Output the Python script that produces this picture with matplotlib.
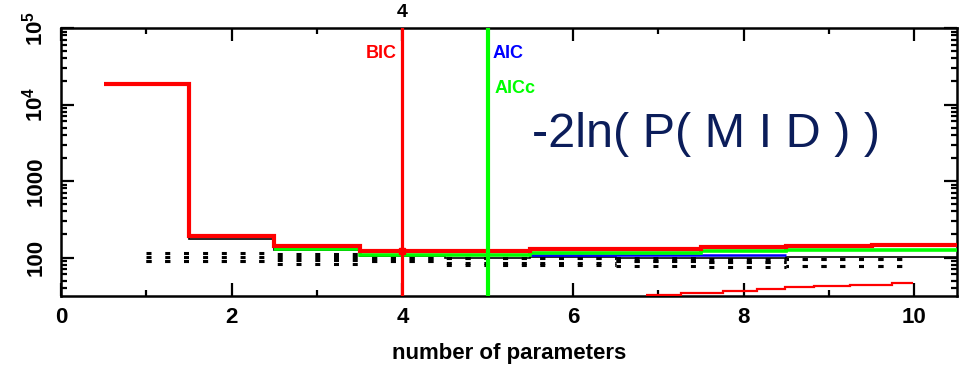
import matplotlib
matplotlib.use("Agg")
import matplotlib.pyplot as plt
import numpy as np
from matplotlib.ticker import FixedLocator, FuncFormatter, NullFormatter

plt.rcParams["font.family"] = ["Liberation Sans", "DejaVu Sans"]
plt.rcParams["font.weight"] = "bold"
plt.rcParams["axes.labelweight"] = "bold"
plt.rcParams["mathtext.fontset"] = "custom"
plt.rcParams["mathtext.rm"] = "Liberation Sans:bold"
plt.rcParams["mathtext.bf"] = "Liberation Sans:bold"
plt.rcParams["mathtext.it"] = "Liberation Sans:bold"
plt.rcParams["lines.scale_dashes"] = False

# ---- data -------------------------------------------------------------
n_params = np.arange(1, 11)
neg2lnL = [18500, 177, 124, 104, 100, 101, 100, 100, 101, 102]
bic = [18500, 191, 140, 120, 121, 129, 129, 137, 142, 146]
aicc_k = np.arange(3, 11)
aicc = [129, 108, 109, 115, 114, 123, 124, 124]
aic_k = np.arange(6, 9)
aic = [108, 106.5, 107]

# spread of the sampled fits (dashed)
bound_a = [114.5, 114.5, 112.8, 98.5, 98.5, 98.5, 98.5, 97.0, 97.0, 97.0]
bound_b = [101.5, 101.5, 101.5, 98.5, 98.5, 98.5, 88.7, 87.4, 97.0, 97.0]
bound_c = [90.0, 90.0, 92.7, 90.0, 84.8, 84.8, 88.7, 87.4, 78.6, 78.6]
bound_d = [90.0, 90.0, 82.2, 90.0, 79.8, 79.8, 77.4, 76.3, 78.6, 78.6]

# lower tail curve
tail_edges = [6.85, 7.26, 7.76, 8.16, 8.49, 8.82, 9.25, 9.74, 9.99]
tail_vals = [32.4, 34.0, 36.5, 38.7, 40.8, 42.8, 44.1, 46.0]

best_bic = 4
best_aic = 5

x_ticks = [0, 2, 4, 6, 8, 10]
y_ticks = [1e2, 1e3, 1e4, 1e5]
y_tick_labels = ["100", "1000", r"$10^4$", r"$10^5$"]

XMAX = 10.5
YMIN, YMAX = 31.4, 1e5


def edges_for(k):
    k = np.asarray(k, dtype=float)
    return np.concatenate([[k[0] - 0.5], k + 0.5])


# ---- figure -----------------------------------------------------------
fig = plt.figure(figsize=(9.67, 3.75), dpi=100)
ax_rect = [61 / 967, 79 / 375, 896 / 967, 268 / 375]
ax = fig.add_axes(ax_rect)
ax.set_yscale("log")
ax.set_xlim(0, XMAX)
ax.set_ylim(YMIN, YMAX)

# dashed spread lines between 1 and 10 parameters; each flat piece keeps
# the same dash phase so the dashes line up in columns
dash_on, dash_off = 3.6, 9.9
period = dash_on + dash_off
pts_per_unit = ax_rect[2] * fig.get_figwidth() * 72 / XMAX
dash_edges = np.concatenate([[1.0], n_params[:-1] + 0.5, [10.0]])
for vals in (bound_a, bound_b, bound_c, bound_d):
    for x0, x1, v in zip(dash_edges[:-1], dash_edges[1:], vals):
        phase = ((x0 - 1.0) * pts_per_unit) % period
        ax.plot([x0, x1], [v, v], color="black", lw=2.2,
                linestyle=(phase, (dash_on, dash_off)),
                solid_capstyle="butt", dash_capstyle="butt", zorder=2)

ax.stairs(neg2lnL, edges_for(n_params), baseline=None, color="black", lw=1.2, zorder=3)
ax.stairs(aic, edges_for(aic_k), baseline=None, color="#0000ff", lw=1.8, zorder=4)
ax.stairs(aicc, edges_for(aicc_k), baseline=None, color="#00ff00", lw=2.6, zorder=5)
ax.stairs(bic, edges_for(n_params), baseline=None, color="#ff0000", lw=3.0, zorder=6)
ax.stairs(tail_vals, tail_edges, baseline=None, color="#ff0000", lw=1.6, zorder=6)

ax.axvline(best_bic, color="#ff0000", lw=2.3, zorder=7)
ax.axvline(best_aic, color="#00ff00", lw=3.0, zorder=7)
ax.plot([best_bic], [bic[best_bic - 1]], "s", color="#ff0000", ms=5, zorder=8)

# labels beside the selection lines
xa = ax.get_xaxis_transform()
ax.annotate("BIC", xy=(best_bic, 0.903), xycoords=xa, xytext=(-4, 0),
            textcoords="offset points", ha="right", va="center",
            color="#ff0000", fontsize=13)
ax.annotate("AIC", xy=(best_aic, 0.903), xycoords=xa, xytext=(3.2, 0),
            textcoords="offset points", ha="left", va="center",
            color="#0000ff", fontsize=13)
ax.annotate("AICc", xy=(best_aic, 0.776), xycoords=xa, xytext=(4.7, 0),
            textcoords="offset points", ha="left", va="center",
            color="#00ff00", fontsize=13)
ax.annotate(str(best_bic), xy=(best_bic, 1.0), xycoords=xa, xytext=(0, 11.5),
            textcoords="offset points", ha="center", va="center",
            color="black", fontsize=14)

fig.text(532 / 967, 1 - 147 / 375, "-2ln( P( M I D ) )", fontsize=35,
         color="#0b1d5a", ha="left", va="baseline", fontweight="normal")

# ---- axes styling -------------------------------------------------------
for s in ax.spines.values():
    s.set_linewidth(1.8)

ax.xaxis.set_major_locator(FixedLocator(x_ticks))
ax.xaxis.set_minor_locator(FixedLocator([1, 3, 5, 7, 9]))
ax.yaxis.set_major_locator(FixedLocator(y_ticks))
minor_y = [m * 10.0 ** e for e in range(1, 5) for m in range(2, 10)]
ax.yaxis.set_minor_locator(FixedLocator([v for v in minor_y if v > YMIN]))
ax.yaxis.set_major_formatter(FuncFormatter(
    lambda v, p: y_tick_labels[y_ticks.index(v)] if v in y_ticks else ""))
ax.yaxis.set_minor_formatter(NullFormatter())

ax.tick_params(which="both", direction="in", top=True, right=True, width=1.6)
ax.tick_params(which="major", length=9.5)
ax.tick_params(which="minor", length=4.5)
ax.tick_params(axis="x", labelsize=16, pad=8)
ax.tick_params(axis="y", labelsize=16, pad=10, labelrotation=90)
for lab in ax.get_yticklabels():
    lab.set_va("center")

ax.set_xlabel("number of parameters", fontsize=16, fontweight="bold", labelpad=11)

fig.savefig("out.png", dpi=100)
